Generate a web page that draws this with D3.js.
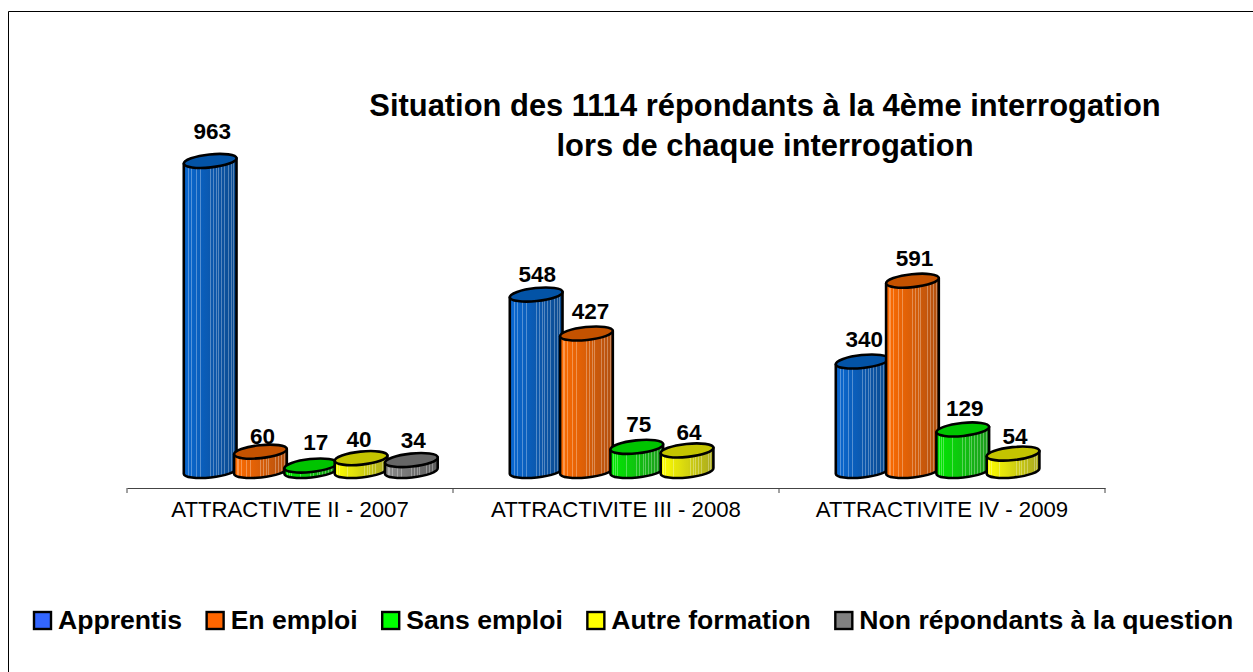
<!DOCTYPE html>
<html><head><meta charset="utf-8">
<style>html,body{margin:0;padding:0;background:#fff;overflow:hidden}svg{display:block}text{font-family:"Liberation Sans",Arial,sans-serif;fill:#000}</style>
<script src="https://cdn.jsdelivr.net/npm/d3@7"></script></head><body>
<svg id="c" width="1253" height="672"></svg>
<script>
const categories = ["ATTRACTIVTE II - 2007", "ATTRACTIVITE III - 2008", "ATTRACTIVITE IV - 2009"];
const seriesNames = ["Apprentis", "En emploi", "Sans emploi", "Autre formation", "Non répondants à la question"];
const apprentis = [963, 548, 340];
const enEmploi = [60, 427, 591];
const sansEmploi = [17, 75, 129];
const autreFormation = [40, 64, 54];
const nonRepondants = [34, null, null];
const seriesValues = [apprentis, enEmploi, sansEmploi, autreFormation, nonRepondants];
const legendColors = ["#3366ff", "#ff6600", "#00ff00", "#ffff00", "#808080"];
const topColors = ["#0353a6", "#c45200", "#00c400", "#c4c400", "#666666"];
const sideLeft = ["#0a68d2", "#ff6c00", "#00ea00", "#ffff00", "#8c8c8c"];
const sideRight = ["#0b4a8e", "#b2500f", "#1f9a1f", "#a8a820", "#5c5c5c"];
const stripeStops = [.06,.09,.14,.24,.31,.5,.56,.62,.66,.72,.78,.84,.9,.95];
const labelLift = [[22,13,15],[8,15,15],[16,15,13],[11,10,10],[12,0,0]];
const labelShift = [[2,1,2],[2,4,2],[5,2,2],[-2,2,2],[2,0,0]];

const svg = d3.select("#c");
svg.append("path").attr("d","M8.5 672V11.5H1253").attr("fill","none").attr("stroke","#000").attr("stroke-width",1);

const x0 = d3.scaleBand().domain(categories).range([127,1105]);
const x1 = d3.scaleBand().domain(seriesNames).range([58,309.5]);
const y = d3.scaleLinear().domain([0,1000]).range([471,149]);
const axisY = 488;
const rx = 26.5, ry = 6.5, tilt = -6;

const defs = svg.append("defs");
seriesNames.forEach((s,i)=>{
  const g = defs.append("linearGradient").attr("id","g"+i);
  const mix = d3.interpolateRgb(sideLeft[i], sideRight[i]);
  const stops = [[0,mix(0)]];
  stripeStops.forEach(p=>{
    const c = mix(p), l = d3.interpolateRgb(c,"#ffffff")(0.3);
    stops.push([p-.008,c],[p-.008,l],[p+.008,l],[p+.008,c]);
  });
  stops.push([1,mix(1)]);
  g.selectAll("stop").data(stops).join("stop").attr("offset",d=>d[0]).attr("stop-color",d=>d[1]);
});

const rad = tilt*Math.PI/180, ex = rx*Math.cos(rad), ey = rx*Math.sin(rad);
const chart = svg.append("g");
categories.forEach((cat,ci)=>{
  seriesNames.forEach((s,si)=>{
    const v = seriesValues[si][ci];
    if(v==null) return;
    const cx = x0(cat)+x1(s)+x1.bandwidth()/2, yb = y(0), yt = y(v);
    const g = chart.append("g").attr("stroke","#000").attr("stroke-width",2.6).attr("stroke-linejoin","round");
    g.append("path").attr("fill",`url(#g${si})`)
     .attr("d",`M${cx-ex} ${yt-ey}L${cx-ex} ${yb-ey}A${rx} ${ry} ${tilt} 0 0 ${cx+ex} ${yb+ey}L${cx+ex} ${yt+ey}Z`);
    g.append("ellipse").attr("cx",cx).attr("cy",yt).attr("rx",rx).attr("ry",ry)
     .attr("transform",`rotate(${tilt} ${cx} ${yt})`).attr("fill",topColors[si]);
  });
});
categories.forEach((cat,ci)=>{
  seriesNames.forEach((s,si)=>{
    const v = seriesValues[si][ci];
    if(v==null) return;
    svg.append("text").attr("x",x0(cat)+x1(s)+x1.bandwidth()/2+labelShift[si][ci]).attr("y",y(v)-labelLift[si][ci])
      .attr("text-anchor","middle").attr("font-size",22.5).attr("font-weight","bold").text(v);
  });
});

const ax = svg.append("g").attr("transform",`translate(0,${axisY})`)
  .call(d3.axisBottom(x0).tickSize(0).tickPadding(13));
ax.select(".domain").attr("stroke","#444").attr("stroke-width",1.2);
ax.selectAll("text").attr("font-size",22.2).attr("font-weight","normal").attr("fill","#000");
ax.selectAll(".edge").data([...categories.map(c=>x0(c)),1105]).join("line").attr("class","edge")
  .attr("x1",d=>d).attr("x2",d=>d).attr("y1",0).attr("y2",5).attr("stroke","#444");

svg.append("text").attr("x",765).attr("y",116).attr("text-anchor","middle").attr("font-size",30.9).attr("font-weight","bold").text("Situation des 1114 répondants à la 4ème interrogation");
svg.append("text").attr("x",765).attr("y",156).attr("text-anchor","middle").attr("font-size",30.9).attr("font-weight","bold").text("lors de chaque interrogation");

let lx = 34;
seriesNames.forEach((s,i)=>{
  svg.append("rect").attr("x",lx).attr("y",612).attr("width",17).attr("height",17).attr("fill",legendColors[i]).attr("stroke","#000").attr("stroke-width",2.4);
  const t = svg.append("text").attr("x",lx+24).attr("y",629).attr("font-size",26.6).attr("font-weight","bold").text(s);
  lx += 24 + t.node().getComputedTextLength() + 24.5;
});
</script></body></html>
